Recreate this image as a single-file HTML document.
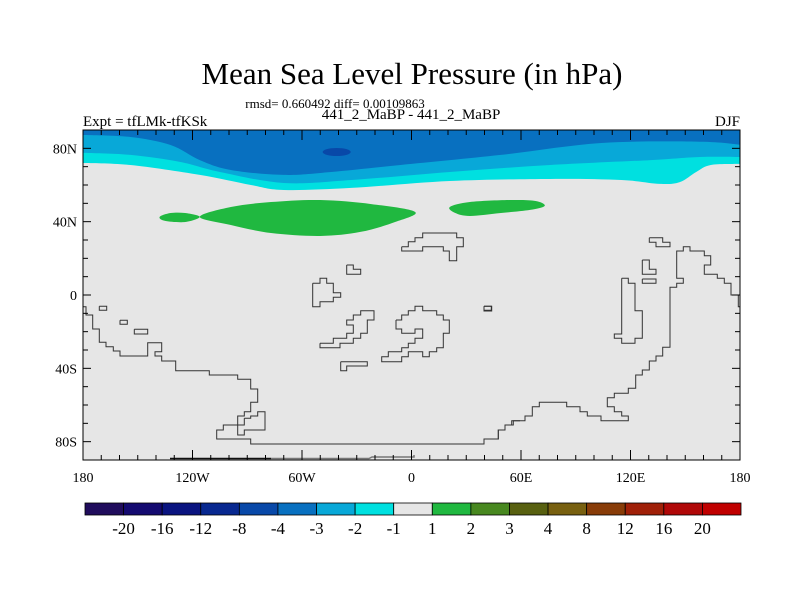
<!DOCTYPE html>
<html><head><meta charset="utf-8">
<style>
html,body{margin:0;padding:0;background:#fff;}
svg text{font-family:"Liberation Serif",serif;fill:#000;}
</style></head>
<body>
<svg id="chart" width="800" height="600" viewBox="0 0 800 600" xmlns="http://www.w3.org/2000/svg">
<text x="412" y="84" font-size="31" text-anchor="middle">Mean Sea Level Pressure (in hPa)</text>
<text x="335" y="108" font-size="13" text-anchor="middle">rmsd= 0.660492 diff= 0.00109863</text>
<text x="411" y="119" font-size="15" text-anchor="middle">441_2_MaBP - 441_2_MaBP</text>
<text x="83" y="126" font-size="15">Expt = tfLMk-tfKSk</text>
<text x="740" y="126" font-size="15" text-anchor="end">DJF</text>
<defs><clipPath id="pc"><rect x="83" y="130" width="657" height="330"/></clipPath></defs>
<rect x="83" y="130" width="657" height="330" fill="#e6e6e6"/>
<g id="fills" clip-path="url(#pc)"></g>
<g id="coast" clip-path="url(#pc)" fill="none" stroke="#333" stroke-width="1"></g>
<g id="ticks" stroke="#000" stroke-width="1"></g>
<rect x="83" y="130" width="657" height="330" fill="none" stroke="#000" stroke-width="1"/>
<g id="axlabels" font-size="14"></g>
<g id="cbar"></g>
</svg>
<script>
// ---- data ----
const levels = ["-20","-16","-12","-8","-4","-3","-2","-1","1","2","3","4","8","12","16","20"];
const levelColors = ["#200c5c","#140a70","#0a1480","#082890","#0848a8","#0870c0","#08a8d8","#00e0e0","#e6e6e6","#20b840","#488820","#586010","#786010","#883c08","#a02008","#b00808","#c00000"];
const lonTicks = [-180,-120,-60,0,60,120,180];
const lonTickLabels = ["180","120W","60W","0","60E","120E","180"];
const latTicks = [80,40,0,-40,-80];
const latTickLabels = ["80N","40N","0","40S","80S"];
// contour boundaries (lon, lat) : southern edge of each negative band
const bandM3Lon = [-180,-154,-132,-116,-99,-70,-44,-6,49,104,158,180];
const bandM3Lat = [87.3,86.2,81.8,73.6,68.2,65.5,67.1,70.9,76.4,82.9,83.6,82.0];
const bandM2Lon = [-180,-154,-127,-105,-70,-33,21,76,131,158,180];
const bandM2Lat = [77.5,76.4,72.6,67.1,61.1,62.7,67.1,70.9,73.6,75.3,75.3];
const bandM1Lon = [-180,-154,-116,-88,-70,-33,21,76,115,136,147,156,164,180];
const bandM1Lat = [72.0,70.9,65.5,60.0,57.3,58.4,62.2,63.3,62.7,60.6,61.6,67.1,70.9,71.5];
const lowCoreLon = -41, lowCoreLat = 78, lowCoreRx = 7.7, lowCoreRy = 2.2;
const greenMainLon = [-116,-99,-77,-50,-22,2,-9,-28,-50,-77,-99];
const greenMainLat = [42.6,48,50.7,51.8,49.6,45.3,39.8,34.4,32.2,33.8,38.2];
const greenWestLon = [-138,-132,-124,-116,-124,-135];
const greenWestLat = [42.6,44.7,44.7,42.6,39.8,40.4];
const greenEastLon = [21,32,54,68,73,65,49,32,24];
const greenEastLat = [48,50.7,51.8,51.3,48.6,46.4,44.7,43.1,44.7];

// ---- axes ----
const X0=83,X1=740,Y0=130,Y1=460;
const xs = lon => X0 + (lon+180)/360*(X1-X0);
const ys = lat => Y0 + (90-lat)/180*(Y1-Y0);
const NS="http://www.w3.org/2000/svg";
function mk(tag,attrs,parent){const e=document.createElementNS(NS,tag);for(const k in attrs)e.setAttribute(k,attrs[k]);parent.appendChild(e);return e;}
function smooth(pts,closed){
  let d="M"+pts[0][0]+","+pts[0][1];const n=pts.length;
  const g=i=>closed?pts[(i+n)%n]:pts[Math.max(0,Math.min(n-1,i))];
  const last=closed?n:n-1;
  for(let i=0;i<last;i++){const p0=g(i-1),p1=g(i),p2=g(i+1),p3=g(i+2);
    d+=` C${p1[0]+(p2[0]-p0[0])/6},${p1[1]+(p2[1]-p0[1])/6} ${p2[0]-(p3[0]-p1[0])/6},${p2[1]-(p3[1]-p1[1])/6} ${p2[0]},${p2[1]}`;}
  return d+(closed?"Z":"");
}
const fills=document.getElementById("fills");
function band(lons,lats,color,name){
  const pts=lons.map((l,i)=>[xs(l),ys(lats[i])]);
  let d=smooth(pts,false)+` L${X1},${Y0} L${X0},${Y0} Z`;
  const p=mk("path",{d:d,fill:color},fills);
  
  
}
band(bandM1Lon,bandM1Lat,levelColors[7],"band-minus1");
band(bandM2Lon,bandM2Lat,levelColors[6],"band-minus2");
band(bandM3Lon,bandM3Lat,levelColors[5],"band-minus3");
const core=mk("ellipse",{cx:xs(lowCoreLon),cy:ys(lowCoreLat),rx:xs(lowCoreLon+lowCoreRx)-xs(lowCoreLon),ry:ys(lowCoreLat-lowCoreRy)-ys(lowCoreLat),fill:levelColors[4]},fills);


function blob(lons,lats,name){
  const pts=lons.map((l,i)=>[xs(l),ys(lats[i])]);
  const p=mk("path",{d:smooth(pts,true),fill:levelColors[9]},fills);
  
  
}
blob(greenMainLon,greenMainLat,"positive-anomaly-main");
blob(greenWestLon,greenWestLat,"positive-anomaly-west");
blob(greenEastLon,greenEastLat,"positive-anomaly-east");

// ---- coastlines (basemap, traced in 3x zoom coordinates) ----
const coastZ3=[
"10,245 18,245 18,270 38,270 38,312 58,312 58,352 78,352 78,365 100,365 100,378 120,378 120,393 203,393 203,353 245,353 245,380 225,380 225,393 245,393 245,408 287,408 287,437 388,437 388,450 473,450 473,463 512,463 512,492 533,492 533,532 512,532 512,560 493,560 493,573 473,573 473,600 430,600 430,615 410,615 410,642 512,642 512,657 1212,657 1212,642 1255,642 1255,615 1275,615 1275,600 1300,600 1300,587 1320,587",
"58,244 80,244 80,256 58,256 58,244","120,286 142,286 142,298 120,298 120,286","163,313 203,313 203,327 163,327 163,313",
"493,580 512,580 512,573 533,573 533,560 555,560 555,615 493,615 493,630 473,630 473,600 493,600 493,580",
"965,65 965,78 1028,78 1028,65 1090,65 1090,78 1108,78 1108,107 1130,107 1130,65 1150,65 1150,38 1130,38 1130,24 1028,24 1028,38 1005,38 1005,50 985,50 985,65 965,65",
"800,120 820,120 820,133 842,133 842,148 800,148 800,120",
"698,175 720,175 720,160 740,160 740,175 760,175 760,203 782,203 782,217 760,217 760,230 720,230 720,245 698,245 698,175",
"720,355 760,355 760,340 800,340 800,325 820,325 820,300 800,300 800,285 820,285 820,270 842,270 842,257 882,257 882,285 862,285 862,325 842,325 842,340 820,340 820,355 780,355 780,368 720,368 720,355",
"782,410 862,410 862,423 800,423 800,437 782,437 782,410",
"948,285 965,285 965,270 985,270 985,257 1005,257 1005,244 1028,244 1028,257 1070,257 1070,270 1090,270 1090,285 1108,285 1108,325 1090,325 1090,368 1070,368 1070,380 1048,380 1048,395 1028,395 1028,380 985,380 985,395 965,395 965,410 905,410 905,395 925,395 925,380 965,380 965,368 985,368 985,355 1005,355 1005,340 1028,340 1028,312 1005,312 1005,325 965,325 965,312 948,312 948,285",
"1212,244 1234,244 1234,256 1212,256 1212,244"];
const coastZ4=[
"42,244 65,244 65,258 42,258 42,244",
"0,657 42,657 42,642 85,642 85,615 105,615 105,600 125,600 125,587 165,587 165,573 187,573 187,545 208,545 208,532 290,532 290,545 330,545 330,560 352,560 352,573 393,573 393,587 475,587 475,573 455,573 455,560 433,560 433,545 412,545 412,518 433,518 433,505 475,505 475,490 497,490 497,450 517,450 517,435 538,435 538,408 558,408 558,393 578,393 578,367 600,367 600,187 620,187 620,175 640,175 640,160 620,160 620,78 640,78 640,65 660,65 660,78 703,78 703,92 722,92 722,120 703,120 703,148 742,148 742,160 763,160 763,175 783,175 783,210 805,210 805,245 820,245",
"455,160 475,160 475,175 495,175 495,257 517,257 517,340 495,340 495,355 455,355 455,340 433,340 433,327 455,327 455,160",
"517,105 538,105 538,133 558,133 558,148 517,148 517,105","517,162 558,162 558,175 517,175 517,162",
"538,38 578,38 578,52 600,52 600,65 558,65 558,52 538,52 538,38"];
const coast=document.getElementById("coast");
function addCoast(list,ox,oy){list.forEach(s=>{const pts=s.split(" ").map(p=>{const [a,b]=p.split(",").map(Number);return (ox+a/3).toFixed(1)+","+(oy+b/3).toFixed(1);}).join(" ");
  const e=mk("polyline",{points:pts},coast);
  
  });}
addCoast(coastZ3,80,225);addCoast(coastZ4,470,225);
const ant1=mk("polyline",{points:"170,458.5 271,458.5",stroke:"#111","stroke-width":"1.5"},coast);


const ant2=mk("polyline",{points:"271,458.5 369,458.5 372,457 414,457 414,455",stroke:"#777","stroke-width":"1.5"},coast);



// ---- ticks ----
const tk=document.getElementById("ticks");
for(let lon=-180;lon<=180;lon+=10){const x=xs(lon);const L=lon%60===0?10:5;
  mk("line",{x1:x,y1:Y1,x2:x,y2:Y1-L},tk);mk("line",{x1:x,y1:Y0,x2:x,y2:Y0+L},tk);}
for(let lat=-90;lat<=90;lat+=10){const y=ys(lat);const L=lat%40===0?8:5;
  mk("line",{x1:X0,y1:y,x2:X0+L,y2:y},tk);mk("line",{x1:X1,y1:y,x2:X1-L,y2:y},tk);}
const al=document.getElementById("axlabels");
lonTicks.forEach((l,i)=>{const t=mk("text",{x:xs(l),y:482,"text-anchor":"middle"},al);t.textContent=lonTickLabels[i];
  
  });
latTicks.forEach((l,i)=>{const t=mk("text",{x:77,y:ys(l)+5,"text-anchor":"end"},al);t.textContent=latTickLabels[i];
  
  });

// ---- colorbar ----
const cb=document.getElementById("cbar");
const CB0=85,CB1=741,CBy=503,CBh=12,bw=(CB1-CB0)/levelColors.length;
levelColors.forEach((c,i)=>{const r=mk("rect",{x:CB0+i*bw,y:CBy,width:bw,height:CBh,fill:c,stroke:"#000","stroke-width":"0.8"},cb);
  
  });
levels.forEach((s,i)=>{const t=mk("text",{x:CB0+(i+1)*bw,y:534,"text-anchor":"middle","font-size":"17"},cb);t.textContent=s;
  
  });
</script>
</body></html>
